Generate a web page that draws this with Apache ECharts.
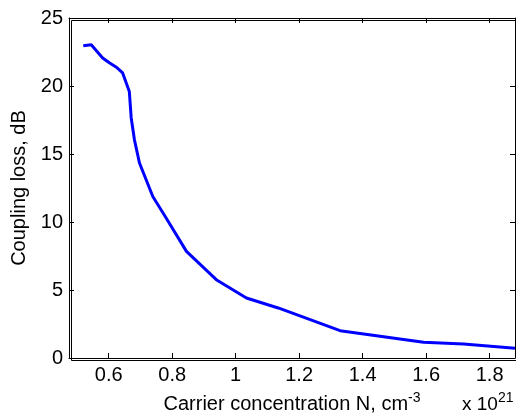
<!DOCTYPE html>
<html>
<head>
<meta charset="utf-8">
<script src="https://cdn.jsdelivr.net/npm/echarts@6/dist/echarts.min.js"></script>
<style>
  html, body { margin: 0; padding: 0; background: #fff; }
  #main { width: 516px; height: 414px; }
</style>
</head>
<body>
<div id="main"></div>
<script>
var carrierN = [0.52, 0.545, 0.581, 0.602, 0.623, 0.644, 0.665, 0.671, 0.681, 0.697, 0.739, 0.781,
    0.845, 0.939, 1.034, 1.134, 1.329, 1.592, 1.718, 1.88];
var couplingLoss = [22.96, 23.04, 22.06, 21.71, 21.4, 20.96, 19.6, 17.65, 16.06, 14.34, 11.88, 10.29,
    7.84, 5.76, 4.41, 3.68, 2.01, 1.15, 1.03, 0.72];
var xTicks = [0.6, 0.8, 1, 1.2, 1.4, 1.6, 1.8];
var yTicks = [0, 5, 10, 15, 20, 25];

var myChart = echarts.init(document.getElementById('main'));

var font = "'Liberation Sans', Arial, sans-serif";
var points = carrierN.map(function (x, i) { return [x, couplingLoss[i]]; });

var boxLine = { show: true, onZero: false, lineStyle: { color: '#000', width: 1 } };
var boxTick = { show: true, inside: true, length: 5, lineStyle: { color: '#000', width: 1 } };

option = {
    animation: false,
    grid: {
        left: 69,
        right: 1,
        top: 18,
        bottom: 56,
        outerBoundsMode: 'none'
    },
    xAxis: [{
        type: 'value',
        min: 0.475,
        max: 1.88,
        axisLine: boxLine,
        axisTick: Object.assign({ customValues: xTicks }, boxTick),
        axisLabel: {
            customValues: xTicks,
            color: '#000',
            fontSize: 20,
            fontFamily: font,
            margin: 7
        },
        splitLine: { show: false },
        name: 'Carrier concentration N, cm{sup|-3}',
        nameLocation: 'middle',
        nameGap: 33,
        nameTextStyle: {
            color: '#000', fontSize: 20, fontFamily: font,
            rich: { sup: { fontSize: 14, fontFamily: font, color: '#000', padding: [0, 0, 13, 0] } }
        }
    }, {
        // top edge of the box (MATLAB style)
        type: 'value',
        position: 'top',
        min: 0.475,
        max: 1.88,
        axisLine: boxLine,
        axisTick: Object.assign({ customValues: xTicks }, boxTick),
        axisLabel: { show: false },
        splitLine: { show: false }
    }],
    yAxis: [{
        type: 'value',
        min: 0,
        max: 25,
        interval: 5,
        axisLine: boxLine,
        axisTick: boxTick,
        axisLabel: {
            customValues: yTicks,
            color: '#000',
            fontSize: 20,
            fontFamily: font,
            margin: 6
        },
        splitLine: { show: false },
        name: 'Coupling loss, dB',
        nameLocation: 'middle',
        nameGap: 27,
        nameTextStyle: { color: '#000', fontSize: 20, fontFamily: font }
    }, {
        type: 'value',
        position: 'right',
        min: 0,
        max: 25,
        interval: 5,
        axisLine: boxLine,
        axisTick: boxTick,
        axisLabel: { show: false },
        splitLine: { show: false }
    }],
    graphic: [{
        // axes box outline
        type: 'rect',
        left: 69,
        top: 18,
        z: 100,
        shape: { width: 446, height: 340 },
        style: { fill: 'none', stroke: '#000', lineWidth: 1 }
    }, {
        type: 'text',
        left: 462,
        top: 391,
        style: {
            text: 'x 10{sup|21}',
            fill: '#000',
            font: '19px ' + font,
            rich: { sup: { fontSize: 14, fontFamily: font, fill: '#000', padding: [0, 0, 13, 0] } }
        }
    }],
    series: [{
        type: 'line',
        data: points,
        showSymbol: false,
        symbol: 'none',
        lineStyle: { color: '#0000ff', width: 3 },
        itemStyle: { color: '#0000ff' }
    }, {
        type: 'line',
        xAxisIndex: 1,
        yAxisIndex: 1,
        data: [],
        showSymbol: false
    }]
};

myChart.setOption(option);
</script>
</body>
</html>
